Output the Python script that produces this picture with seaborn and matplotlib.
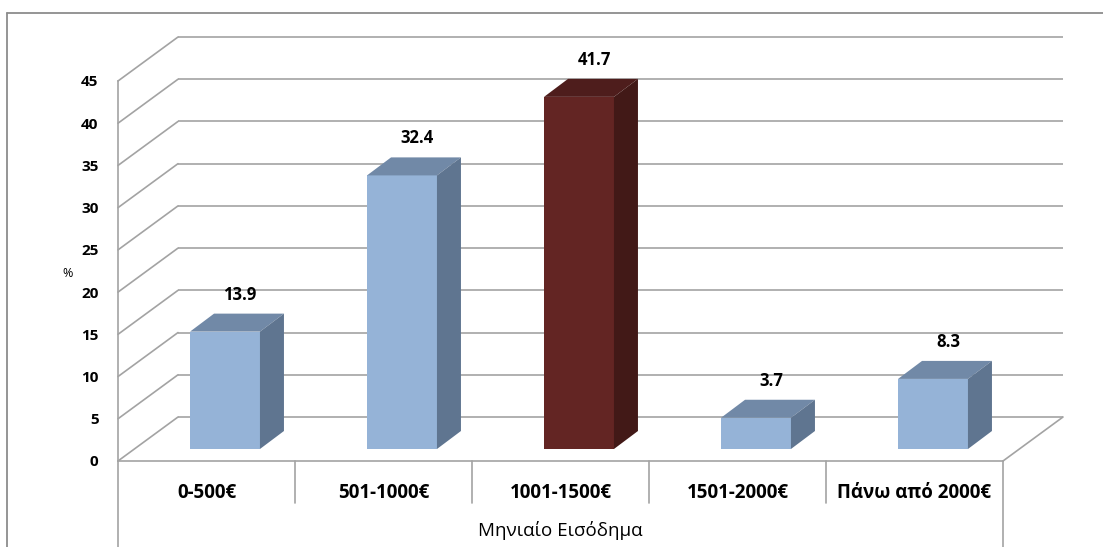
import matplotlib
matplotlib.use("Agg")
import matplotlib.pyplot as plt
from matplotlib.patches import Polygon
from matplotlib.lines import Line2D
import seaborn as sns
import pandas as pd

# Monthly income distribution (%)
categories = ["0-500€", "501-1000€", "1001-1500€", "1501-2000€", "Πάνω από 2000€"]
values = [13.9, 32.4, 41.7, 3.7, 8.3]
y_ticks = [0, 5, 10, 15, 20, 25, 30, 35, 40, 45]
x_title = "Μηνιαίο Εισόδημα"
y_title = "%"

# face colours: front, top, side
blue = ("#95B3D7", "#7189A7", "#5F7590")
red = ("#632523", "#4E1D1C", "#421917")
face_sets = [blue, blue, red, blue, blue]

sns.set_theme(style="white")
plt.rcParams["font.family"] = ["Open Sans", "DejaVu Sans"]

W, H = 1103, 547
fig = plt.figure(figsize=(W / 100, H / 100), dpi=100)
fig.patch.set_facecolor("white")

# front plane of the 3-D box in pixels
left_px, right_px, base_px, top_px = 118, 1003, 461, 81
ax = fig.add_axes([left_px / W, 1 - base_px / H,
                   (right_px - left_px) / W, (base_px - top_px) / H])
ax.set_facecolor("none")

df = pd.DataFrame({"cat": categories, "val": values})
sns.barplot(data=df, x="cat", y="val", hue="cat",
            palette=[f[0] for f in face_sets], width=0.395,
            saturation=1, legend=False, ax=ax, zorder=3)

ax.set_xlim(-0.5, 4.5)
ax.set_ylim(0, 45)

px_x = (right_px - left_px) / 5.0        # pixels per category
px_y = (base_px - top_px) / 45.0         # pixels per unit

# depth offsets (data units)
wall_dx, wall_dy = 60 / px_x, 44 / px_y   # back wall
bar_ox, bar_oy = 18.5 / px_x, 12 / px_y   # bar front plane
bar_dx, bar_dy = 24 / px_x, 18 / px_y     # bar depth

grid_col = "#A3A3A3"
glw = 1.2

# back wall grid and side-wall diagonals
for v in y_ticks:
    ax.plot([-0.5 + wall_dx, 4.5 + wall_dx], [v + wall_dy, v + wall_dy],
            color=grid_col, lw=glw, clip_on=False, zorder=1,
            solid_capstyle="butt")
    ax.plot([-0.5, -0.5 + wall_dx], [v, v + wall_dy],
            color=grid_col, lw=glw, clip_on=False, zorder=1)
# floor right edge
ax.plot([4.5, 4.5 + wall_dx], [0, wall_dy], color=grid_col, lw=glw,
        clip_on=False, zorder=1)

# 3-D bars: shift front faces, add top and side faces
for patch, faces, v in zip(ax.patches, face_sets, values):
    patch.set_x(patch.get_x() + bar_ox)
    patch.set_y(bar_oy)
    patch.set_edgecolor("none")
    x0, y0 = patch.get_x(), patch.get_y()
    w, h = patch.get_width(), patch.get_height()
    x1, y1 = x0 + w, y0 + h
    top = Polygon([(x0, y1), (x1, y1), (x1 + bar_dx, y1 + bar_dy),
                   (x0 + bar_dx, y1 + bar_dy)], closed=True,
                  facecolor=faces[1], edgecolor="none", zorder=3,
                  clip_on=False)
    side = Polygon([(x1, y0), (x1 + bar_dx, y0 + bar_dy),
                    (x1 + bar_dx, y1 + bar_dy), (x1, y1)], closed=True,
                   facecolor=faces[2], edgecolor="none", zorder=3,
                   clip_on=False)
    ax.add_patch(top)
    ax.add_patch(side)
    patch.set_clip_on(False)
    ax.text(x0 + w / 2 + 15 / px_x, y1 + bar_dy + 19 / px_y, f"{v:.1f}",
            ha="center", va="center", fontsize=12, fontweight="bold",
            color="black", clip_on=False, zorder=5)

# axes styling
for s in ["top", "right"]:
    ax.spines[s].set_visible(False)
for s in ["left", "bottom"]:
    ax.spines[s].set_visible(True)
    ax.spines[s].set_color(grid_col)
    ax.spines[s].set_linewidth(glw)
    ax.spines[s].set_zorder(2)

ax.set_yticks(y_ticks)
ax.set_yticklabels([str(t) for t in y_ticks], fontweight="bold",
                   fontsize=11, color="black")
ax.tick_params(axis="y", direction="out", length=5, width=glw,
               color=grid_col, pad=9)

ax.set_xticks(range(len(categories)))
ax.set_xticklabels(categories, fontweight="bold", fontsize=13.5,
                   color="black")
ax.tick_params(axis="x", length=0, pad=16)

# table-style cell lines under the category axis
sep_depth = (503 - base_px) / px_y
full_depth = (H - base_px) / px_y
for xs in [0.5, 1.5, 2.5, 3.5]:
    ax.plot([xs, xs], [0, -sep_depth], color=grid_col, lw=glw,
            clip_on=False, zorder=2)
for xs in [-0.5, 4.5]:
    ax.plot([xs, xs], [0, -full_depth], color=grid_col, lw=glw,
            clip_on=False, zorder=2)

ax.set_xlabel(x_title, fontsize=13.5, color="black")
ax.xaxis.set_label_coords(0.5, -(531 - base_px) / (base_px - top_px))
ax.xaxis.label.set_va("center")

ax.set_ylabel(y_title, fontsize=9, rotation=0, color="black")
ax.yaxis.set_label_coords((68 - left_px) / (right_px - left_px),
                          (base_px - 274) / (base_px - top_px))
ax.yaxis.label.set_va("center")
ax.yaxis.label.set_ha("center")

# chart frame
frame_col = "#8C8C8C"
fig.add_artist(Line2D([7 / W, 7 / W], [0, 1 - 13 / H], color=frame_col,
                      lw=1.3, transform=fig.transFigure))
fig.add_artist(Line2D([7 / W, 1], [1 - 13 / H, 1 - 13 / H], color=frame_col,
                      lw=1.3, transform=fig.transFigure))

fig.savefig("out.png", dpi=100, facecolor="white")
